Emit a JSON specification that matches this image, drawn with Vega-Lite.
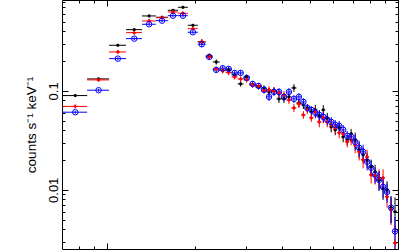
{
  "$schema": "https://vega.github.io/schema/vega-lite/v6.json",
  "width": 336,
  "height": 249,
  "autosize": {"type": "none"},
  "padding": {"left": 62, "top": 0, "right": 1, "bottom": 1},
  "config": {
    "view": {"stroke": "#000000", "strokeWidth": 1},
    "font": "Liberation Sans",
    "axis": {"domain": false, "grid": false, "tickColor": "#000000", "tickWidth": 1, "labelColor": "#000000", "titleColor": "#000000"}
  },
  "data": {"values": [
    {"s":"s1","e":0.7775,"de":0.0765,"y":0.0897,"dy":0.0031},
    {"s":"s1","e":0.935,"de":0.081,"y":0.1322,"dy":0.0046},
    {"s":"s1","e":1.089,"de":0.073,"y":0.2894,"dy":0.0101},
    {"s":"s1","e":1.24,"de":0.078,"y":0.4162,"dy":0.0146},
    {"s":"s1","e":1.395,"de":0.077,"y":0.5725,"dy":0.02},
    {"s":"s1","e":1.545,"de":0.073,"y":0.5553,"dy":0.0194},
    {"s":"s1","e":1.685,"de":0.067,"y":0.6533,"dy":0.0229},
    {"s":"s1","e":1.823,"de":0.072,"y":0.7005,"dy":0.0245},
    {"s":"s1","e":1.972,"de":0.078,"y":0.461,"dy":0.0161},
    {"s":"s1","e":2.116,"de":0.067,"y":0.3126,"dy":0.0188},
    {"s":"s1","e":2.245,"de":0.062,"y":0.2257,"dy":0.0135},
    {"s":"s1","e":2.373,"de":0.066,"y":0.1963,"dy":0.0118},
    {"s":"s1","e":2.497,"de":0.059,"y":0.1604,"dy":0.0096},
    {"s":"s1","e":2.618,"de":0.062,"y":0.163,"dy":0.0098},
    {"s":"s1","e":2.745,"de":0.065,"y":0.1451,"dy":0.0087},
    {"s":"s1","e":2.878,"de":0.068,"y":0.1177,"dy":0.0071},
    {"s":"s1","e":3.018,"de":0.072,"y":0.1385,"dy":0.0083},
    {"s":"s1","e":3.164,"de":0.075,"y":0.115,"dy":0.0069},
    {"s":"s1","e":3.317,"de":0.079,"y":0.1098,"dy":0.0066},
    {"s":"s1","e":3.463,"de":0.068,"y":0.1072,"dy":0.0064},
    {"s":"s1","e":3.603,"de":0.072,"y":0.0977,"dy":0.0088},
    {"s":"s1","e":3.748,"de":0.074,"y":0.1,"dy":0.009},
    {"s":"s1","e":3.898,"de":0.077,"y":0.083,"dy":0.0075},
    {"s":"s1","e":4.055,"de":0.08,"y":0.083,"dy":0.0075},
    {"s":"s1","e":4.218,"de":0.083,"y":0.087,"dy":0.0078},
    {"s":"s1","e":4.388,"de":0.087,"y":0.1072,"dy":0.0096},
    {"s":"s1","e":4.564,"de":0.09,"y":0.0756,"dy":0.0068},
    {"s":"s1","e":4.729,"de":0.075,"y":0.0722,"dy":0.0065},
    {"s":"s1","e":4.88,"de":0.077,"y":0.0673,"dy":0.0061},
    {"s":"s1","e":5.037,"de":0.08,"y":0.0614,"dy":0.0055},
    {"s":"s1","e":5.198,"de":0.082,"y":0.0643,"dy":0.0077},
    {"s":"s1","e":5.364,"de":0.085,"y":0.0559,"dy":0.0067},
    {"s":"s1","e":5.536,"de":0.087,"y":0.0643,"dy":0.0077},
    {"s":"s1","e":5.713,"de":0.09,"y":0.0534,"dy":0.0064},
    {"s":"s1","e":5.896,"de":0.093,"y":0.0433,"dy":0.0052},
    {"s":"s1","e":6.085,"de":0.096,"y":0.0404,"dy":0.0048},
    {"s":"s1","e":6.28,"de":0.099,"y":0.0423,"dy":0.0051},
    {"s":"s1","e":6.481,"de":0.102,"y":0.0343,"dy":0.0041},
    {"s":"s1","e":6.689,"de":0.106,"y":0.032,"dy":0.0038},
    {"s":"s1","e":6.903,"de":0.109,"y":0.0368,"dy":0.0044},
    {"s":"s1","e":7.125,"de":0.113,"y":0.032,"dy":0.0058},
    {"s":"s1","e":7.353,"de":0.116,"y":0.0254,"dy":0.0046},
    {"s":"s1","e":7.588,"de":0.12,"y":0.0226,"dy":0.0041},
    {"s":"s1","e":7.832,"de":0.124,"y":0.0201,"dy":0.0036},
    {"s":"s1","e":8.082,"de":0.127,"y":0.0171,"dy":0.0031},
    {"s":"s1","e":8.341,"de":0.132,"y":0.0152,"dy":0.0027},
    {"s":"s1","e":8.608,"de":0.136,"y":0.0126,"dy":0.0028},
    {"s":"s1","e":8.884,"de":0.14,"y":0.0102,"dy":0.0023},
    {"s":"s1","e":9.17,"de":0.146,"y":0.01,"dy":0.0022},
    {"s":"s1","e":9.465,"de":0.149,"y":0.0066,"dy":0.002},
    {"s":"s1","e":9.767,"de":0.153,"y":0.006,"dy":0.0024},
    {"s":"s2","e":0.7775,"de":0.0765,"y":0.0697,"dy":0.0024},
    {"s":"s2","e":0.935,"de":0.081,"y":0.1292,"dy":0.0045},
    {"s":"s2","e":1.089,"de":0.073,"y":0.2477,"dy":0.0087},
    {"s":"s2","e":1.24,"de":0.078,"y":0.3881,"dy":0.0136},
    {"s":"s2","e":1.395,"de":0.077,"y":0.5094,"dy":0.0178},
    {"s":"s2","e":1.545,"de":0.073,"y":0.5502,"dy":0.0193},
    {"s":"s2","e":1.685,"de":0.067,"y":0.6281,"dy":0.022},
    {"s":"s2","e":1.823,"de":0.072,"y":0.6093,"dy":0.0213},
    {"s":"s2","e":1.972,"de":0.078,"y":0.4259,"dy":0.0149},
    {"s":"s2","e":2.116,"de":0.067,"y":0.3148,"dy":0.0189},
    {"s":"s2","e":2.245,"de":0.062,"y":0.2205,"dy":0.0132},
    {"s":"s2","e":2.373,"de":0.066,"y":0.1668,"dy":0.01},
    {"s":"s2","e":2.497,"de":0.059,"y":0.1604,"dy":0.0096},
    {"s":"s2","e":2.618,"de":0.062,"y":0.1531,"dy":0.0092},
    {"s":"s2","e":2.745,"de":0.065,"y":0.1385,"dy":0.0083},
    {"s":"s2","e":2.878,"de":0.068,"y":0.1322,"dy":0.0079},
    {"s":"s2","e":3.018,"de":0.072,"y":0.1292,"dy":0.0078},
    {"s":"s2","e":3.164,"de":0.075,"y":0.115,"dy":0.0069},
    {"s":"s2","e":3.317,"de":0.079,"y":0.1123,"dy":0.0067},
    {"s":"s2","e":3.463,"de":0.068,"y":0.1,"dy":0.006},
    {"s":"s2","e":3.603,"de":0.072,"y":0.1024,"dy":0.0092},
    {"s":"s2","e":3.748,"de":0.074,"y":0.1,"dy":0.009},
    {"s":"s2","e":3.898,"de":0.077,"y":0.0954,"dy":0.0086},
    {"s":"s2","e":4.055,"de":0.08,"y":0.0911,"dy":0.0082},
    {"s":"s2","e":4.218,"de":0.083,"y":0.0811,"dy":0.0073},
    {"s":"s2","e":4.388,"de":0.087,"y":0.0673,"dy":0.0061},
    {"s":"s2","e":4.564,"de":0.09,"y":0.0739,"dy":0.0067},
    {"s":"s2","e":4.729,"de":0.075,"y":0.0572,"dy":0.0051},
    {"s":"s2","e":4.88,"de":0.077,"y":0.0643,"dy":0.0058},
    {"s":"s2","e":5.037,"de":0.08,"y":0.0534,"dy":0.0048},
    {"s":"s2","e":5.198,"de":0.082,"y":0.0614,"dy":0.0074},
    {"s":"s2","e":5.364,"de":0.085,"y":0.0486,"dy":0.0058},
    {"s":"s2","e":5.536,"de":0.087,"y":0.0534,"dy":0.0064},
    {"s":"s2","e":5.713,"de":0.09,"y":0.0486,"dy":0.0058},
    {"s":"s2","e":5.896,"de":0.093,"y":0.0454,"dy":0.0054},
    {"s":"s2","e":6.085,"de":0.096,"y":0.0423,"dy":0.0051},
    {"s":"s2","e":6.28,"de":0.099,"y":0.0377,"dy":0.0045},
    {"s":"s2","e":6.481,"de":0.102,"y":0.0368,"dy":0.0044},
    {"s":"s2","e":6.689,"de":0.106,"y":0.0305,"dy":0.0037},
    {"s":"s2","e":6.903,"de":0.109,"y":0.032,"dy":0.0038},
    {"s":"s2","e":7.125,"de":0.113,"y":0.0285,"dy":0.0051},
    {"s":"s2","e":7.353,"de":0.116,"y":0.0242,"dy":0.0044},
    {"s":"s2","e":7.588,"de":0.12,"y":0.0201,"dy":0.0036},
    {"s":"s2","e":7.832,"de":0.124,"y":0.0215,"dy":0.0039},
    {"s":"s2","e":8.082,"de":0.127,"y":0.0142,"dy":0.0026},
    {"s":"s2","e":8.341,"de":0.132,"y":0.0138,"dy":0.0025},
    {"s":"s2","e":8.608,"de":0.136,"y":0.0132,"dy":0.0029},
    {"s":"s2","e":8.884,"de":0.14,"y":0.0132,"dy":0.0029},
    {"s":"s2","e":9.17,"de":0.146,"y":0.0085,"dy":0.0019},
    {"s":"s2","e":9.465,"de":0.149,"y":0.0063,"dy":0.0019},
    {"s":"s2","e":9.767,"de":0.153,"y":0.0029,"dy":0.0015},
    {"s":"s3","e":0.7775,"de":0.0765,"y":0.0609,"dy":0.0021},
    {"s":"s3","e":0.935,"de":0.081,"y":0.1016,"dy":0.0036},
    {"s":"s3","e":1.089,"de":0.073,"y":0.212,"dy":0.0074},
    {"s":"s3","e":1.24,"de":0.078,"y":0.3375,"dy":0.0118},
    {"s":"s3","e":1.395,"de":0.077,"y":0.4719,"dy":0.0165},
    {"s":"s3","e":1.545,"de":0.073,"y":0.5129,"dy":0.018},
    {"s":"s3","e":1.685,"de":0.067,"y":0.5763,"dy":0.0202},
    {"s":"s3","e":1.823,"de":0.072,"y":0.5763,"dy":0.0202},
    {"s":"s3","e":1.972,"de":0.078,"y":0.3917,"dy":0.0137},
    {"s":"s3","e":2.116,"de":0.067,"y":0.2962,"dy":0.0178},
    {"s":"s3","e":2.245,"de":0.062,"y":0.2205,"dy":0.0132},
    {"s":"s3","e":2.373,"de":0.066,"y":0.163,"dy":0.0098},
    {"s":"s3","e":2.497,"de":0.059,"y":0.1696,"dy":0.0102},
    {"s":"s3","e":2.618,"de":0.062,"y":0.1668,"dy":0.01},
    {"s":"s3","e":2.745,"de":0.065,"y":0.152,"dy":0.0091},
    {"s":"s3","e":2.878,"de":0.068,"y":0.152,"dy":0.0091},
    {"s":"s3","e":3.018,"de":0.072,"y":0.1353,"dy":0.0081},
    {"s":"s3","e":3.164,"de":0.075,"y":0.1177,"dy":0.0071},
    {"s":"s3","e":3.317,"de":0.079,"y":0.1123,"dy":0.0067},
    {"s":"s3","e":3.463,"de":0.068,"y":0.1024,"dy":0.0061},
    {"s":"s3","e":3.603,"de":0.072,"y":0.087,"dy":0.0078},
    {"s":"s3","e":3.748,"de":0.074,"y":0.0977,"dy":0.0088},
    {"s":"s3","e":3.898,"de":0.077,"y":0.0977,"dy":0.0088},
    {"s":"s3","e":4.055,"de":0.08,"y":0.087,"dy":0.0078},
    {"s":"s3","e":4.218,"de":0.083,"y":0.0977,"dy":0.0088},
    {"s":"s3","e":4.388,"de":0.087,"y":0.083,"dy":0.0075},
    {"s":"s3","e":4.564,"de":0.09,"y":0.087,"dy":0.0078},
    {"s":"s3","e":4.729,"de":0.075,"y":0.0774,"dy":0.007},
    {"s":"s3","e":4.88,"de":0.077,"y":0.0673,"dy":0.0061},
    {"s":"s3","e":5.037,"de":0.08,"y":0.0643,"dy":0.0058},
    {"s":"s3","e":5.198,"de":0.082,"y":0.06,"dy":0.0072},
    {"s":"s3","e":5.364,"de":0.085,"y":0.0572,"dy":0.0069},
    {"s":"s3","e":5.536,"de":0.087,"y":0.0546,"dy":0.0066},
    {"s":"s3","e":5.713,"de":0.09,"y":0.0509,"dy":0.0061},
    {"s":"s3","e":5.896,"de":0.093,"y":0.0486,"dy":0.0058},
    {"s":"s3","e":6.085,"de":0.096,"y":0.0454,"dy":0.0054},
    {"s":"s3","e":6.28,"de":0.099,"y":0.0443,"dy":0.0053},
    {"s":"s3","e":6.481,"de":0.102,"y":0.0404,"dy":0.0048},
    {"s":"s3","e":6.689,"de":0.106,"y":0.0351,"dy":0.0042},
    {"s":"s3","e":6.903,"de":0.109,"y":0.0343,"dy":0.0041},
    {"s":"s3","e":7.125,"de":0.113,"y":0.0305,"dy":0.0055},
    {"s":"s3","e":7.353,"de":0.116,"y":0.0266,"dy":0.0048},
    {"s":"s3","e":7.588,"de":0.12,"y":0.0242,"dy":0.0044},
    {"s":"s3","e":7.832,"de":0.124,"y":0.0192,"dy":0.0035},
    {"s":"s3","e":8.082,"de":0.127,"y":0.0167,"dy":0.003},
    {"s":"s3","e":8.341,"de":0.132,"y":0.0142,"dy":0.0026},
    {"s":"s3","e":8.608,"de":0.136,"y":0.0126,"dy":0.0028},
    {"s":"s3","e":8.884,"de":0.14,"y":0.0107,"dy":0.0024},
    {"s":"s3","e":9.17,"de":0.146,"y":0.0095,"dy":0.0021},
    {"s":"s3","e":9.465,"de":0.149,"y":0.0066,"dy":0.002},
    {"s":"s3","e":9.767,"de":0.153,"y":0.0038,"dy":0.0015}
  ]},
  "layer": [
    {
      "mark": {"type": "point", "opacity": 0},
      "encoding": {
        "x": {"field": "e", "type": "quantitative",
          "scale": {"type": "log", "domain": [0.7, 10], "nice": false},
          "axis": {"orient": "bottom", "values": [0.8, 0.9, 1, 2, 3, 4, 5, 6, 7, 8, 9, 10], "labels": false, "title": null,
            "tickSize": {"condition": {"test": "datum.value == 1 || datum.value == 10", "value": -6}, "value": -3}}},
        "y": {"field": "y", "type": "quantitative",
          "scale": {"type": "log", "domain": [0.00252, 0.83], "nice": false},
          "axis": {"orient": "left",
            "values": [0.003, 0.004, 0.005, 0.006, 0.007, 0.008, 0.009, 0.01, 0.02, 0.03, 0.04, 0.05, 0.06, 0.07, 0.08, 0.09, 0.1, 0.2, 0.3, 0.4, 0.5, 0.6, 0.7, 0.8],
            "tickSize": {"condition": {"test": "datum.value == 0.1 || datum.value == 0.01", "value": -6}, "value": -3},
            "labelExpr": "datum.value == 0.1 ? '0.1' : (datum.value == 0.01 ? '0.01' : '')",
            "labelAngle": 270, "labelAlign": "center", "labelBaseline": "bottom",
            "labelFontSize": 13, "labelPadding": 8,
            "title": "counts s⁻¹ keV⁻¹", "titleFontSize": 13.5, "titleFontWeight": "normal", "titlePadding": 9}}
      }
    },
    {
      "mark": {"type": "point", "opacity": 0},
      "encoding": {
        "x": {"field": "e", "type": "quantitative",
          "scale": {"type": "log", "domain": [0.7, 10], "nice": false},
          "axis": {"orient": "top", "values": [0.8, 0.9, 1, 2, 3, 4, 5, 6, 7, 8, 9, 10], "labels": false, "title": null,
            "tickSize": {"condition": {"test": "datum.value == 1 || datum.value == 10", "value": -6}, "value": -3}}},
        "y": {"field": "y", "type": "quantitative",
          "scale": {"type": "log", "domain": [0.00252, 0.83], "nice": false},
          "axis": {"orient": "right",
            "values": [0.003, 0.004, 0.005, 0.006, 0.007, 0.008, 0.009, 0.01, 0.02, 0.03, 0.04, 0.05, 0.06, 0.07, 0.08, 0.09, 0.1, 0.2, 0.3, 0.4, 0.5, 0.6, 0.7, 0.8],
            "tickSize": {"condition": {"test": "datum.value == 0.1 || datum.value == 0.01", "value": -6}, "value": -3},
            "labels": false, "title": null}}
      }
    },
    {
      "mark": {"type": "errorbar", "thickness": 1, "clip": true},
      "encoding": {
        "x": {"field": "e", "type": "quantitative", "scale": {"type": "log", "domain": [0.7, 10], "nice": false}, "axis": null},
        "xError": {"field": "de"},
        "y": {"field": "y", "type": "quantitative", "scale": {"type": "log", "domain": [0.00252, 0.83], "nice": false}, "axis": null},
        "color": {"field": "s", "type": "nominal", "scale": {"domain": ["s1", "s2", "s3"], "range": ["#000000", "#ff0000", "#0000ff"]}, "legend": null}
      }
    },
    {
      "mark": {"type": "errorbar", "thickness": 1, "clip": true},
      "encoding": {
        "x": {"field": "e", "type": "quantitative", "scale": {"type": "log", "domain": [0.7, 10], "nice": false}, "axis": null},
        "y": {"field": "y", "type": "quantitative", "scale": {"type": "log", "domain": [0.00252, 0.83], "nice": false}, "axis": null},
        "yError": {"field": "dy"},
        "color": {"field": "s", "type": "nominal", "scale": {"domain": ["s1", "s2", "s3"], "range": ["#000000", "#ff0000", "#0000ff"]}, "legend": null}
      }
    },
    {
      "transform": [{"filter": "datum.s != 's3'"}],
      "mark": {"type": "point", "filled": true, "opacity": 1, "clip": true},
      "encoding": {
        "x": {"field": "e", "type": "quantitative", "scale": {"type": "log", "domain": [0.7, 10], "nice": false}, "axis": null},
        "y": {"field": "y", "type": "quantitative", "scale": {"type": "log", "domain": [0.00252, 0.83], "nice": false}, "axis": null},
        "color": {"field": "s", "type": "nominal", "scale": {"domain": ["s1", "s2", "s3"], "range": ["#000000", "#ff0000", "#0000ff"]}, "legend": null},
        "shape": {"field": "s", "type": "nominal", "scale": {"domain": ["s1", "s2"], "range": ["square", "cross"]}, "legend": null},
        "size": {"field": "s", "type": "nominal", "scale": {"domain": ["s1", "s2"], "range": [7, 14]}, "legend": null}
      }
    },
    {
      "transform": [{"filter": "datum.s == 's3'"}],
      "mark": {"type": "point", "shape": "circle", "filled": false, "size": 30, "strokeWidth": 1, "opacity": 1, "color": "#0000ff", "clip": true},
      "encoding": {
        "x": {"field": "e", "type": "quantitative", "scale": {"type": "log", "domain": [0.7, 10], "nice": false}, "axis": null},
        "y": {"field": "y", "type": "quantitative", "scale": {"type": "log", "domain": [0.00252, 0.83], "nice": false}, "axis": null}
      }
    }
  ],
  "resolve": {"axis": {"x": "independent", "y": "independent"}}
}
